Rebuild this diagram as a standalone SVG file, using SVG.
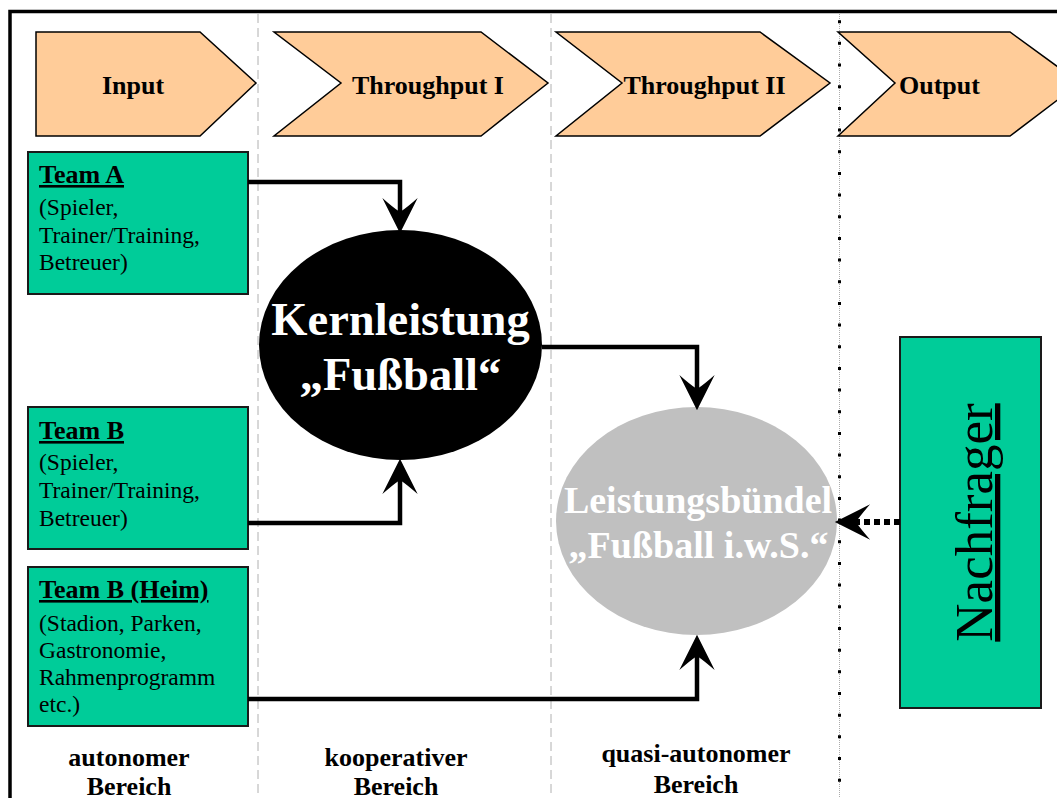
<svg xmlns="http://www.w3.org/2000/svg" width="1057" height="798" viewBox="0 0 1057 798">
<style>
.chev{fill:#FFCC99;stroke:#000;stroke-width:1.5;stroke-linejoin:miter}
.clbl{font-family:"Liberation Serif","Times New Roman",serif;font-weight:bold;font-size:26px;fill:#000;text-anchor:middle}
.box{fill:#00CC99;stroke:#1a1a1a;stroke-width:2}
.ttl{font-family:"Liberation Serif","Times New Roman",serif;font-weight:bold;font-size:26px;fill:#000;text-decoration:underline}
.body{font-family:"Liberation Serif","Times New Roman",serif;font-size:23.5px;fill:#000}
.conn{fill:none;stroke:#000;stroke-width:4.5;stroke-linejoin:miter}
.sep{stroke:#B0B0B0;stroke-width:1;stroke-dasharray:9 5;fill:none}
.foot{font-family:"Liberation Serif","Times New Roman",serif;font-weight:bold;font-size:26px;fill:#000;text-anchor:middle}
</style>
<defs>
<marker id="ah" markerUnits="userSpaceOnUse" markerWidth="40" markerHeight="40" viewBox="-14 -17 34 34" refX="0" refY="0" orient="auto">
<path d="M18,0 L-12,-15 Q-4,-6 0,0 Q-4,6 -12,15 Z" fill="#000"/>
</marker>
</defs>
<rect x="10" y="11.5" width="1100" height="850" fill="#fff" stroke="#000" stroke-width="3.5"/>
<g id="separators">
<line class="sep" x1="258" y1="14" x2="258" y2="798"/>
<line class="sep" x1="551" y1="14" x2="551" y2="798"/>
<line x1="839.5" y1="14" x2="839.5" y2="798" stroke="#AAAAAA" stroke-width="1" stroke-dasharray="1 1"/>
<line x1="839.5" y1="20.2" x2="839.5" y2="798" stroke="#000" stroke-width="3" stroke-dasharray="3 18.67"/>
</g>
<g id="input">
<polygon class="chev" points="36,32 200,32 256,83 200,136 36,136"/>
<text class="clbl" x="133" y="94">Input</text>
</g>
<g id="throughput1">
<polygon class="chev" points="274,32 481,32 548,83 481,136 274,136 341,83"/>
<text class="clbl" x="428" y="94">Throughput I</text>
</g>
<g id="throughput2">
<polygon class="chev" points="556,32 760,32 830,83 760,136 556,136 622,83"/>
<text class="clbl" x="704.5" y="94">Throughput II</text>
</g>
<g id="output">
<polygon class="chev" points="838,32 1010,32 1080,83 1010,136 838,136 895,83"/>
<text class="clbl" x="939.5" y="94">Output</text>
</g>
<g id="teamA">
<rect class="box" x="28" y="152" width="220" height="142"/>
<text class="ttl" x="39" y="183">Team A</text>
<text class="body" x="39" y="215">(Spieler,</text>
<text class="body" x="39" y="242.5">Trainer/Training,</text>
<text class="body" x="39" y="270">Betreuer)</text>
</g>
<g id="teamB">
<rect class="box" x="28" y="407" width="220" height="142"/>
<text class="ttl" x="39" y="439">Team B</text>
<text class="body" x="39" y="470">(Spieler,</text>
<text class="body" x="39" y="498">Trainer/Training,</text>
<text class="body" x="39" y="525.5">Betreuer)</text>
</g>
<g id="teamBHeim">
<rect class="box" x="28" y="567" width="220" height="159"/>
<text class="ttl" x="39" y="598">Team B (Heim)</text>
<text class="body" x="39" y="631">(Stadion, Parken,</text>
<text class="body" x="39" y="658">Gastronomie,</text>
<text class="body" x="39" y="685">Rahmenprogramm</text>
<text class="body" x="39" y="712">etc.)</text>
</g>
<g id="kernleistung">
<ellipse cx="400.5" cy="345" rx="141.5" ry="115" fill="#000"/>
<text x="400.5" y="335" font-family="'Liberation Serif','Times New Roman',serif" font-weight="bold" font-size="46.5" fill="#fff" text-anchor="middle">Kernleistung</text>
<text x="400.5" y="390" font-family="'Liberation Serif','Times New Roman',serif" font-weight="bold" font-size="46.5" fill="#fff" text-anchor="middle">„Fußball“</text>
</g>
<g id="leistungsbuendel">
<ellipse cx="696.5" cy="521" rx="140.5" ry="114" fill="#C0C0C0"/>
<text x="698" y="513" font-family="'Liberation Serif','Times New Roman',serif" font-weight="bold" font-size="38" fill="#FFFFFF" text-anchor="middle">Leistungsbündel</text>
<text x="698.5" y="558" font-family="'Liberation Serif','Times New Roman',serif" font-weight="bold" font-size="38" fill="#FFFFFF" text-anchor="middle">„Fußball i.w.S.“</text>
</g>
<g id="nachfrager">
<rect class="box" x="900" y="337" width="141" height="371"/>
<text transform="translate(992,522.5) rotate(-90)" x="0" y="0" font-family="'Liberation Serif','Times New Roman',serif" font-size="53" fill="#000" text-anchor="middle" text-decoration="underline">Nachfrager</text>
</g>
<g id="connectors">
<path class="conn" d="M248,182 H400 V212" marker-end="url(#ah)"/>
<path class="conn" d="M248,523 H400 V480" marker-end="url(#ah)"/>
<path class="conn" d="M542,347 H697 V389" marker-end="url(#ah)"/>
<path class="conn" d="M248,699 H697 V656" marker-end="url(#ah)"/>
<path d="M900,522 H856" fill="none" stroke="#000" stroke-width="6" stroke-dasharray="6 4" marker-end="url(#ah)"/>
</g>
<g id="footer">
<text class="foot" x="129" y="766">autonomer</text>
<text class="foot" x="129" y="795">Bereich</text>
<text class="foot" x="396" y="766">kooperativer</text>
<text class="foot" x="396" y="795">Bereich</text>
<text class="foot" x="696" y="762">quasi-autonomer</text>
<text class="foot" x="696" y="793">Bereich</text>
</g>
</svg>
